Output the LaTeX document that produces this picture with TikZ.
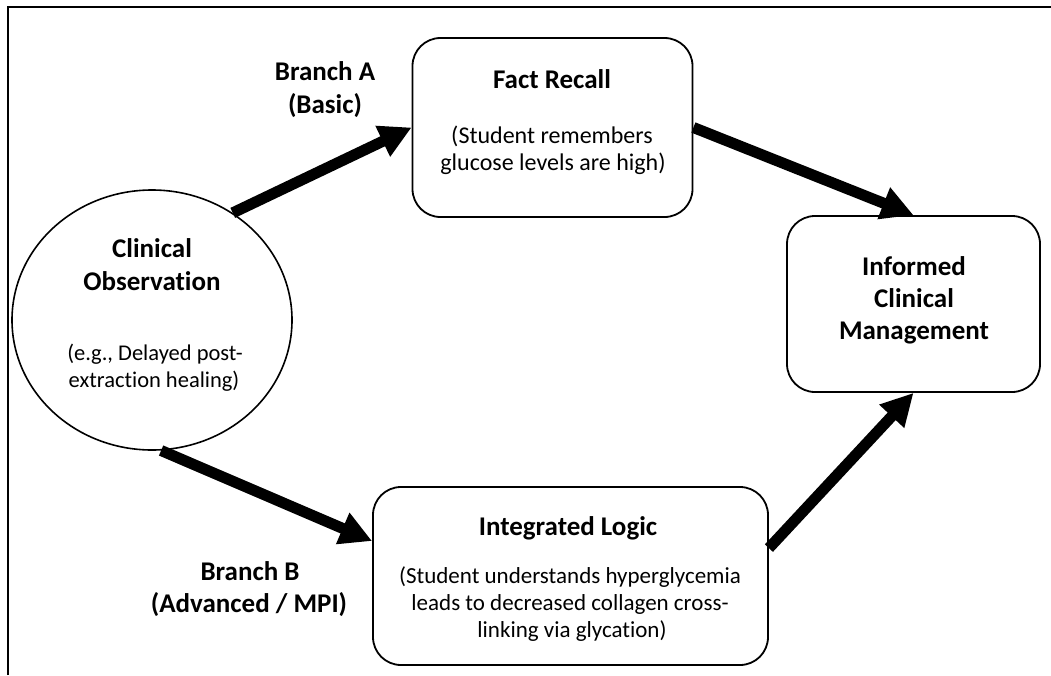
\documentclass[tikz,border=0pt]{standalone}
\usepackage{fontspec}
\setmainfont{Carlito}[Ligatures=NoCommon]
\usetikzlibrary{shapes.geometric,arrows.meta}
\begin{document}
\begin{tikzpicture}[x=1pt,y=-1pt,
 box/.style={draw=black,line width=1.8pt,rounded corners=28pt,inner sep=0pt},
 oval/.style={draw=black,line width=1.6pt,ellipse,inner sep=0pt},
 ttl/.style={font=\fontsize{27}{32}\selectfont\bfseries,anchor=base,inner sep=0pt},
 bdy/.style={font=\fontsize{23}{27}\selectfont,anchor=base,inner sep=0pt},
 bdyl/.style={bdy,font=\fontsize{24}{27}\selectfont},
 bdys/.style={bdy,font=\fontsize{22.5}{27}\selectfont},
 flow/.style={line width=11pt,-{Triangle[length=32pt,width=32pt]}},
 frameline/.style={line width=2pt}]
\useasboundingbox (0,0) rectangle (1051,675);
% frame
\draw[frameline] (7.5,675) -- (7.5,6.5) -- (1051,6.5);
% shapes
\node[oval,minimum width=280pt,minimum height=260pt] (obs) at (152,320) {};
\node[box,minimum width=280pt,minimum height=179pt] (fact) at (552.5,127.5) {};
\node[box,minimum width=253pt,minimum height=176pt] (inf) at (913.5,304) {};
\node[box,minimum width=395pt,minimum height=178pt] (intl) at (570.5,576) {};
% texts
\node[ttl] (obs1) at (152,257) {Clinical};
\node[ttl] (obs2) at (152,290) {Observation};
\node[bdys] (obs3) at (155,360) {(e.g., Delayed post-};
\node[bdys] (obs4) at (154,387) {extraction healing)};
\node[ttl] (fact1) at (552,88) {Fact Recall};
\node[bdyl] (fact2) at (552,143) {(Student remembers};
\node[bdyl] (fact3) at (553,170) {glucose levels are high)};
\node[ttl] (inf1) at (914,275) {Informed};
\node[ttl] (inf2) at (914,307) {Clinical};
\node[ttl] (inf3) at (914,339) {Management};
\node[ttl] (intl1) at (568,535) {Integrated Logic};
\node[bdy] (intl2) at (570,583) {(Student understands hyperglycemia};
\node[bdy] (intl3) at (570,610) {leads to decreased collagen cross-};
\node[bdy] (intl4) at (572,637) {linking via glycation)};
\node[ttl] (bra1) at (325,80) {Branch A};
\node[ttl] (bra2) at (325,113) {(Basic)};
\node[ttl] (brb1) at (250,580) {Branch B};
\node[ttl] (brb2) at (249,612) {(Advanced / MPI)};
% connectors
\draw[flow] (obs.53) -- (fact.west);
\draw[flow] (obs.-86) -- (intl.170.5);
\draw[flow] (fact.east) -- (inf.north);
\draw[flow] (intl.8) -- (inf.south);
\end{tikzpicture}
\end{document}
